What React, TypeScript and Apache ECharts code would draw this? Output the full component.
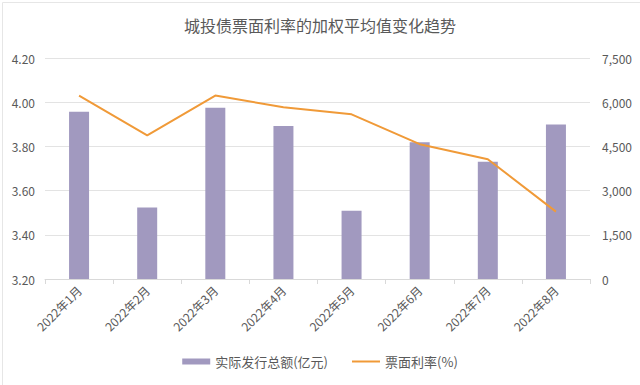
import React, { useEffect, useRef } from "react";
import * as echarts from "echarts";

const categories = ["2022年1月", "2022年2月", "2022年3月", "2022年4月", "2022年5月", "2022年6月", "2022年7月", "2022年8月"];
const issueAmount = [5680, 2430, 5815, 5190, 2320, 4640, 3980, 5240];
const couponRate = [4.03, 3.85, 4.03, 3.977, 3.945, 3.81, 3.742, 3.505];
const leftTicks = { min: 3.2, max: 4.2, interval: 0.2 };
const rightTicks = { min: 0, max: 7500, interval: 1500 };

const FONT = "'Noto Sans CJK SC', 'Noto Sans', sans-serif";

export default function App() {
  const ref = useRef<HTMLDivElement>(null);
  useEffect(() => {
    document.body.style.margin = "0";
    const chart = echarts.init(ref.current!, null, { renderer: "svg" });
    chart.setOption({
      animation: false,
      backgroundColor: "#ffffff",
      textStyle: { fontFamily: FONT },
      title: {
        text: "城投债票面利率的加权平均值变化趋势",
        left: "center",
        top: 12,
        textStyle: { fontSize: 16, fontWeight: "normal", color: "#595959", fontFamily: FONT },
      },
      legend: {
        bottom: 12,
        left: "center",
        itemGap: 24,
        itemWidth: 28,
        itemHeight: 6,
        textStyle: { fontSize: 13, color: "#595959", fontFamily: FONT },
        data: [
          { name: "实际发行总额(亿元)", icon: "rect" },
          { name: "票面利率(%)", icon: "path://M0,0 L28,0 L28,2 L0,2 Z" },
        ],
      },
      grid: { left: 45, right: 50, top: 58, bottom: 106 },
      xAxis: {
        type: "category",
        data: categories,
        boundaryGap: true,
        axisLine: { lineStyle: { color: "#d9d9d9" } },
        axisTick: { show: true, alignWithLabel: false, lineStyle: { color: "#d9d9d9" } },
        axisLabel: { rotate: 45, fontSize: 12, color: "#595959", fontFamily: FONT, margin: 9 },
      },
      yAxis: [
        {
          type: "value",
          min: leftTicks.min,
          max: leftTicks.max,
          interval: leftTicks.interval,
          axisLine: { show: false },
          axisTick: { show: false },
          axisLabel: { formatter: (v: number) => v.toFixed(2), fontSize: 12, color: "#595959", margin: 10 },
          splitLine: { lineStyle: { color: "#e3e3e3" } },
        },
        {
          type: "value",
          min: rightTicks.min,
          max: rightTicks.max,
          interval: rightTicks.interval,
          axisLine: { show: false },
          axisTick: { show: false },
          axisLabel: { formatter: (v: number) => v.toLocaleString("en-US"), fontSize: 12, color: "#595959", margin: 12 },
          splitLine: { show: false },
        },
      ],
      series: [
        {
          name: "实际发行总额(亿元)",
          type: "bar",
          yAxisIndex: 1,
          data: issueAmount,
          barWidth: 20,
          itemStyle: { color: "#a199bf" },
        },
        {
          name: "票面利率(%)",
          type: "line",
          yAxisIndex: 0,
          data: couponRate,
          symbol: "none",
          lineStyle: { color: "#f09a38", width: 2 },
          itemStyle: { color: "#f09a38" },
        },
      ],
      graphic: [
        {
          type: "rect",
          left: 0,
          top: 0,
          shape: { width: 639, height: 384 },
          style: { fill: "none", stroke: "#e6e6e6", lineWidth: 1 },
          silent: true,
        },
      ],
    });
    return () => chart.dispose();
  }, []);
  return <div ref={ref} style={{ width: 640, height: 385 }} />;
}
